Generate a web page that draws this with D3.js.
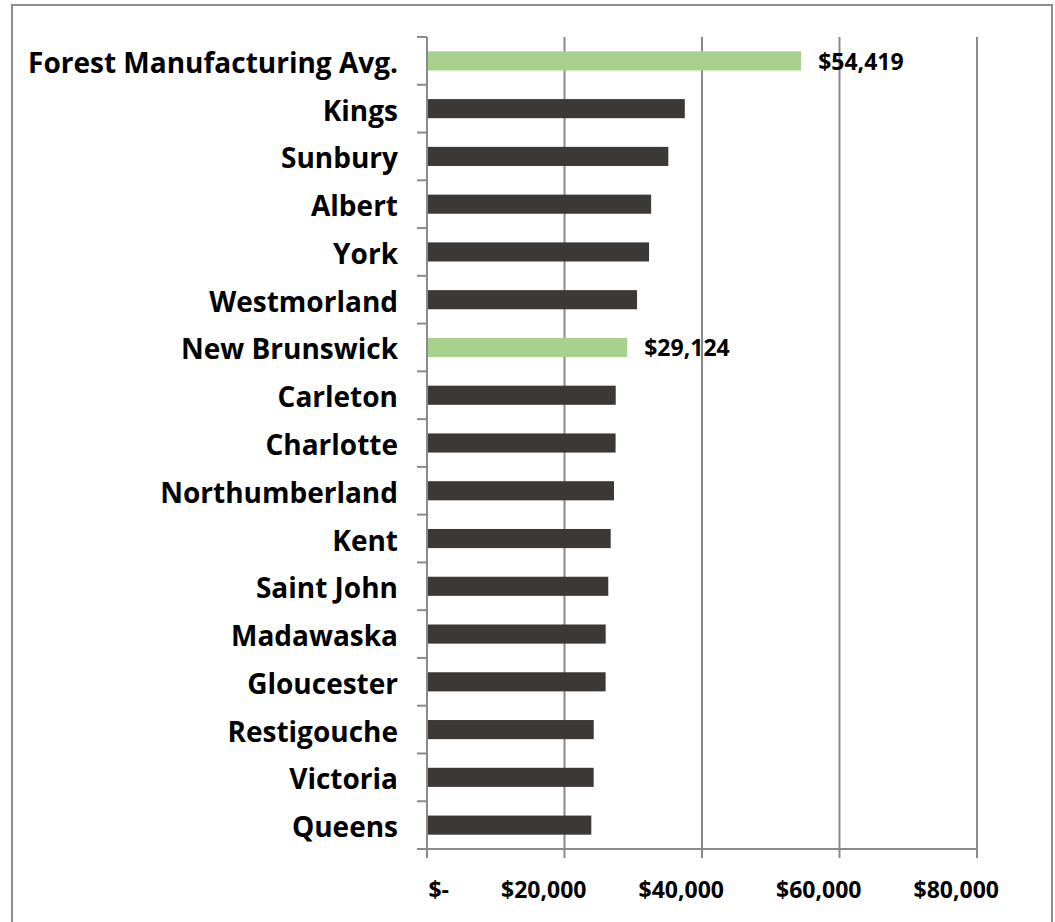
<!DOCTYPE html>
<html>
<head>
<meta charset="utf-8">
<script src="https://cdn.jsdelivr.net/npm/d3@7"></script>
<style>
  html, body { margin: 0; padding: 0; background: #ffffff; }
  svg { display: block; }
</style>
</head>
<body>
<svg id="chart" width="1055" height="922"></svg>
<script>
// ---- data ----
const categories = [
  "Forest Manufacturing Avg.", "Kings", "Sunbury", "Albert", "York", "Westmorland",
  "New Brunswick", "Carleton", "Charlotte", "Northumberland", "Kent", "Saint John",
  "Madawaska", "Gloucester", "Restigouche", "Victoria", "Queens"
];
const values = [
  54419, 37500, 35100, 32600, 32300, 30550,
  29124, 27450, 27430, 27200, 26720, 26370,
  25990, 25980, 24250, 24240, 23900
];
const highlighted = ["Forest Manufacturing Avg.", "New Brunswick"];
const valueLabels = { "Forest Manufacturing Avg.": "$54,419", "New Brunswick": "$29,124" };
const tickValues = [0, 20000, 40000, 60000, 80000];
const tickLabels = ["$-", "$20,000", "$40,000", "$60,000", "$80,000"];

// ---- layout ----
const svg = d3.select("#chart");
const plotLeft = 427, plotRight = 977, plotTop = 37, plotBottom = 849;
const gridColor = "#8a8a8a";
const font = "'Open Sans', 'Liberation Sans', sans-serif";

const x = d3.scaleLinear().domain([0, 80000]).range([plotLeft, plotRight]);
const y = d3.scaleBand().domain(categories).range([plotTop, plotBottom])
  .paddingInner(0.6).paddingOuter(0.3);

// outer border
svg.append("rect")
  .attr("x", 12).attr("y", 5).attr("width", 1040).attr("height", 930)
  .attr("fill", "none").attr("stroke", "#8c8c8c").attr("stroke-width", 2);

// vertical gridlines (+ downward tick marks)
svg.append("g").selectAll("line").data(tickValues.slice(1)).join("line")
  .attr("x1", d => x(d)).attr("x2", d => x(d))
  .attr("y1", plotTop).attr("y2", plotBottom + 9)
  .attr("stroke", gridColor).attr("stroke-width", 2);

// category boundary ticks on the vertical axis
const step = y.step();
const boundaries = categories.map(c => y(c) - step * y.paddingInner() / 2).concat([plotBottom]);
svg.append("g").selectAll("line").data(boundaries).join("line")
  .attr("x1", plotLeft - 10).attr("x2", plotLeft)
  .attr("y1", d => d).attr("y2", d => d)
  .attr("stroke", gridColor).attr("stroke-width", 2);

// bars
svg.append("g").selectAll("rect").data(categories).join("rect")
  .attr("x", x(0))
  .attr("y", d => y(d))
  .attr("width", (d, i) => x(values[i]) - x(0))
  .attr("height", y.bandwidth())
  .attr("fill", d => highlighted.includes(d) ? "#a9d18e" : "#3b3836");

// axes lines
svg.append("line")
  .attr("x1", plotLeft).attr("x2", plotLeft).attr("y1", plotTop).attr("y2", plotBottom + 9)
  .attr("stroke", gridColor).attr("stroke-width", 2);
svg.append("line")
  .attr("x1", plotLeft - 10).attr("x2", plotRight).attr("y1", plotBottom).attr("y2", plotBottom)
  .attr("stroke", gridColor).attr("stroke-width", 2);

// category labels
svg.append("g").selectAll("text").data(categories).join("text")
  .attr("x", 398)
  .attr("y", d => y(d) + y.bandwidth() / 2 + 12)
  .attr("text-anchor", "end")
  .attr("font-family", font).attr("font-weight", "bold").attr("font-size", 28)
  .attr("fill", "#000")
  .text(d => d);

// value labels on highlighted bars
svg.append("g").selectAll("text").data(highlighted).join("text")
  .attr("x", d => x(values[categories.indexOf(d)]) + 17)
  .attr("y", d => y(d) + y.bandwidth() / 2 + 9)
  .attr("font-family", font).attr("font-weight", "bold").attr("font-size", 23)
  .attr("fill", "#000")
  .text(d => valueLabels[d]);

// x tick labels
svg.append("g").selectAll("text").data(tickValues).join("text")
  .attr("x", d => x(d) + 22)
  .attr("y", 898)
  .attr("text-anchor", "end")
  .attr("font-family", font).attr("font-weight", "bold").attr("font-size", 23)
  .attr("fill", "#000")
  .text((d, i) => tickLabels[i]);
</script>
</body>
</html>
